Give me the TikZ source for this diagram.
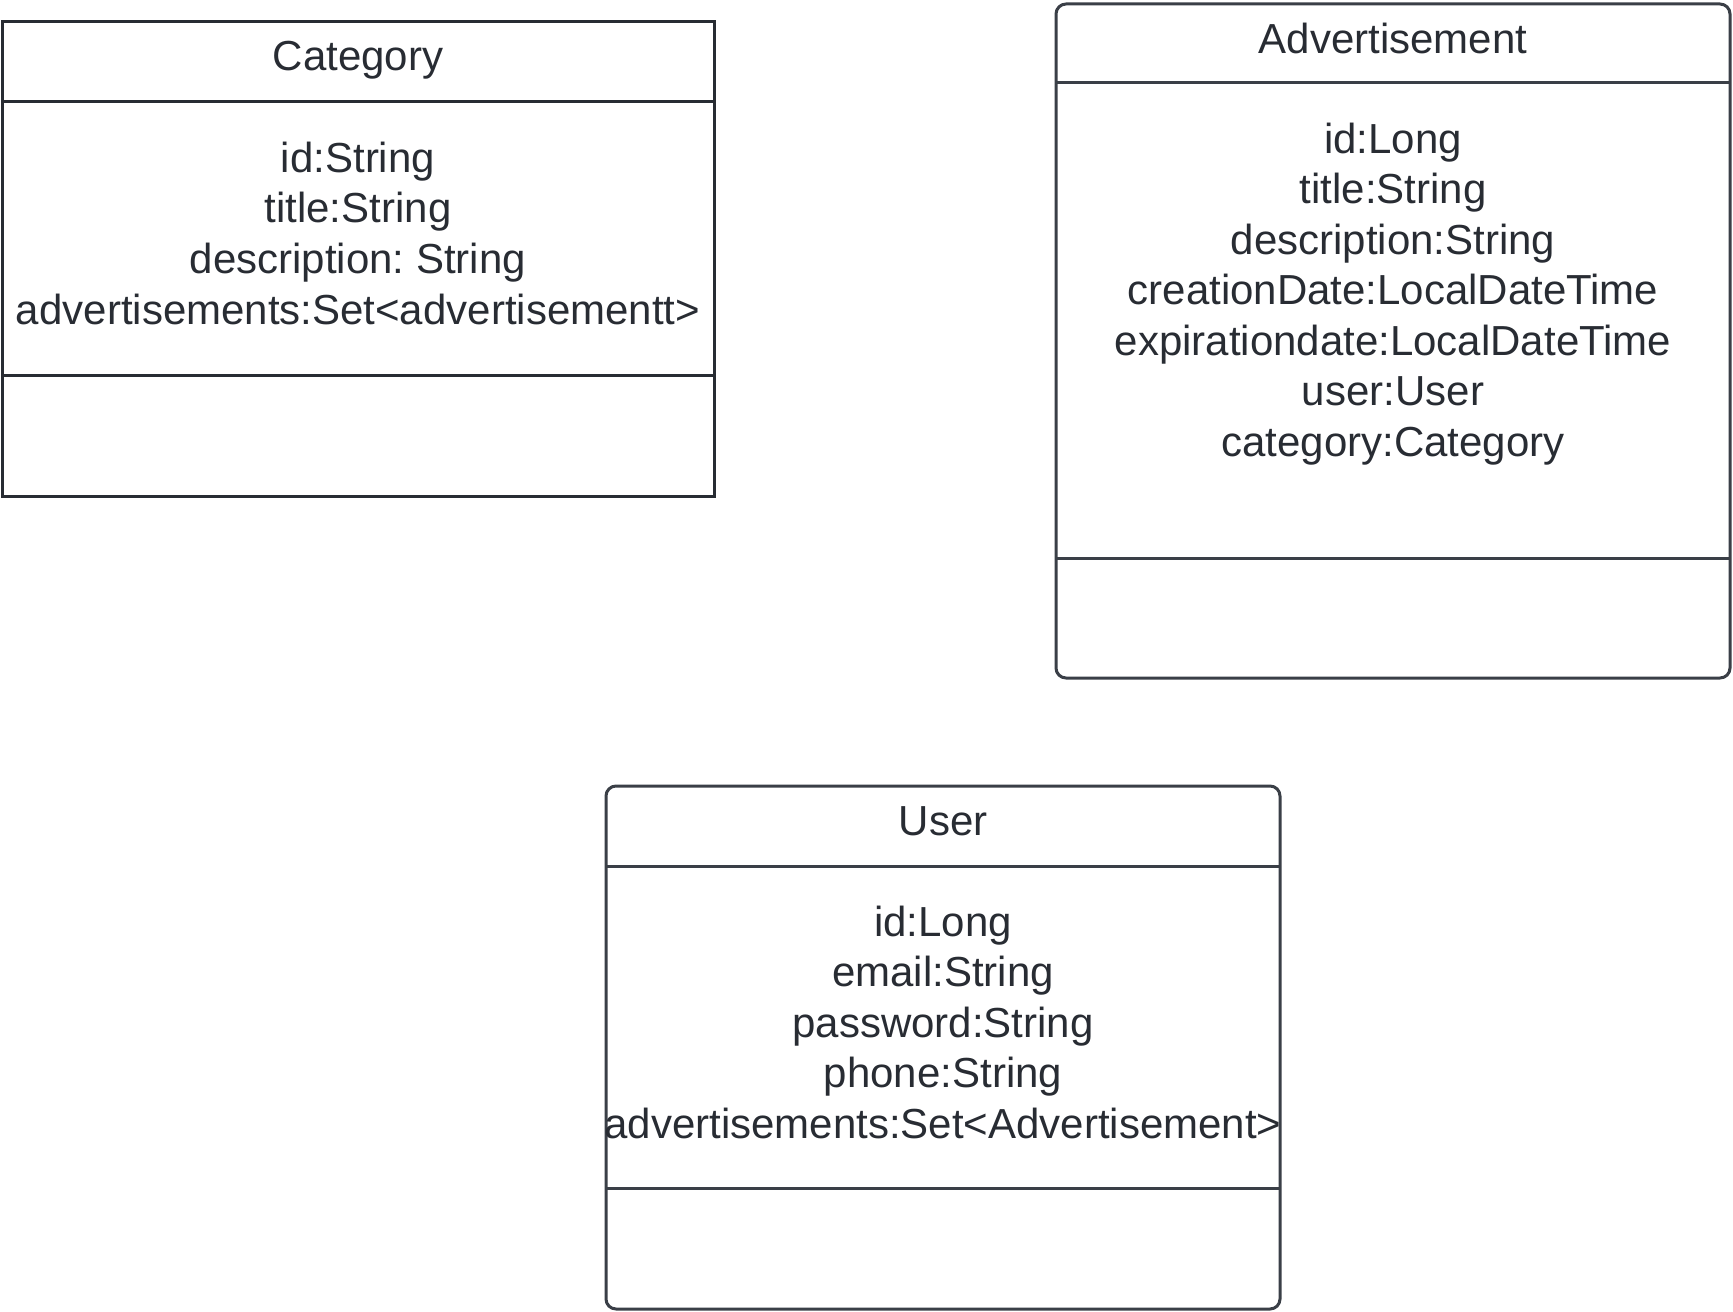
\documentclass[tikz,border=0pt]{standalone}
\usepackage{fontspec}
\setmainfont{Liberation Sans}
\usetikzlibrary{positioning}
\frenchspacing

\definecolor{framedark}{HTML}{282C33}
\definecolor{framegray}{HTML}{3A3F47}

\tikzset{
  classframe/.style={draw=#1, line width=1.5pt},
  classtitle/.style={text=framedark, font=\fontsize{21}{25.4}\selectfont, inner sep=0pt, anchor=base},
  classattr/.style={classtitle},
}

\begin{document}
\begin{tikzpicture}[x=0.5pt,y=-0.5pt]
\useasboundingbox (0,0) rectangle (1733,1311);

% --- CATEGORY ---
\draw[classframe=framedark] (2,22) rectangle (714,496);
\draw[classframe=framedark] (2,102) -- (714,102);
\draw[classframe=framedark] (2,375) -- (714,375);

\node[classtitle] (cat-title) at (358,71) {Category};
\foreach \txt [count=\i] in {id:String, title:String, description: String, advertisements:Set<advertisementt>}
  \node[classattr] (cat-\i) at (358,{172+50.7*(\i-1)}) {\txt};

% --- ADVERTISEMENT ---
\draw[classframe=framegray, rounded corners=5pt] (1056,4) rectangle (1730,678);
\draw[classframe=framegray] (1056,83) -- (1730,83);
\draw[classframe=framegray] (1056,558) -- (1730,558);

\node[classtitle] (adv-title) at (1393,54) {Advertisement};
\foreach \txt [count=\i] in {id:Long, title:String, description:String, creationDate:LocalDateTime, expirationdate:LocalDateTime, user:User, category:Category}
  \node[classattr] (adv-\i) at (1393,{153+50.5*(\i-1)}) {\txt};

% --- USER ---
\draw[classframe=framegray, rounded corners=5pt] (606,786) rectangle (1280,1309);
\draw[classframe=framegray] (606,866) -- (1280,866);
\draw[classframe=framegray] (606,1188) -- (1280,1188);

\node[classtitle] (usr-title) at (943,835) {User};
\foreach \txt [count=\i] in {id:Long, email:String, password:String, phone:String, advertisements:Set<Advertisement>}
  \node[classattr] (usr-\i) at (943,{936+50.5*(\i-1)}) {\txt};

\end{tikzpicture}
\end{document}
